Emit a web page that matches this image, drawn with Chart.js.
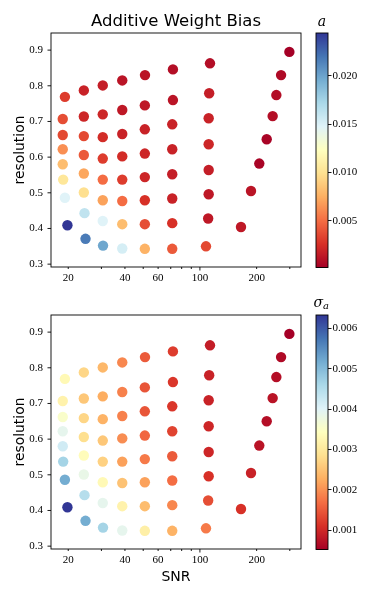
<!DOCTYPE html>
<html>
<head>
<meta charset="utf-8">
<script src="https://cdn.jsdelivr.net/npm/chart.js@4.4.0/dist/chart.umd.min.js"></script>
<style>
  body { margin: 0; background: #fff; }
  #wrap { position: relative; width: 374px; height: 598px; background: #fff; overflow: hidden; }
  canvas { position: absolute; }
</style>
</head>
<body>
<div id="wrap">
  <canvas id="topPlot" width="310" height="298" style="left:0;top:0"></canvas>
  <canvas id="topBar" width="74" height="298" style="left:300px;top:0"></canvas>
  <canvas id="botPlot" width="310" height="316" style="left:0;top:282px"></canvas>
  <canvas id="botBar" width="74" height="298" style="left:300px;top:282px"></canvas>
</div>
<script>
// one row per noise level, 8 resolutions each
var snr = [
  [19.2, 18.7, 18.7, 18.7, 18.7, 18.8, 19.2, 19.8],
  [24.2, 24.2, 24.2, 24.2, 24.2, 24.2, 24.4, 24.7],
  [30.5, 30.5, 30.5, 30.5, 30.5, 30.5, 30.5, 30.6],
  [38.7, 38.7, 38.7, 38.7, 38.7, 38.7, 38.7, 38.7],
  [51.1, 51.0, 51.0, 51.0, 51.0, 51.0, 51.0, 51.0],
  [71.9, 71.9, 71.3, 71.3, 71.3, 71.3, 71.3, 71.3],
  [113.1, 112.0, 111.3, 111.3, 111.3, 111.3, 110.6, 107.7],
  [298.4, 269.6, 254.5, 243.3, 226.2, 206.6, 186.7, 165.2]
];
var resolution = [
  [0.769, 0.707, 0.662, 0.622, 0.580, 0.537, 0.486, 0.409],
  [0.787, 0.714, 0.659, 0.606, 0.554, 0.501, 0.443, 0.371],
  [0.801, 0.720, 0.656, 0.596, 0.537, 0.479, 0.421, 0.352],
  [0.815, 0.732, 0.665, 0.602, 0.537, 0.477, 0.412, 0.344],
  [0.830, 0.745, 0.678, 0.610, 0.544, 0.479, 0.412, 0.343],
  [0.846, 0.760, 0.692, 0.622, 0.552, 0.484, 0.415, 0.343],
  [0.863, 0.779, 0.709, 0.636, 0.564, 0.496, 0.428, 0.350],
  [0.895, 0.830, 0.774, 0.715, 0.650, 0.582, 0.505, 0.404]
];
var biasA = [
  [0.0031, 0.0038, 0.0036, 0.0063, 0.0082, 0.0104, 0.0147, 0.0244],
  [0.0019, 0.0021, 0.0036, 0.0043, 0.0072, 0.0099, 0.0162, 0.0217],
  [0.0017, 0.0021, 0.0024, 0.0031, 0.0050, 0.0070, 0.0147, 0.0198],
  [0.0012, 0.0014, 0.0019, 0.0024, 0.0031, 0.0050, 0.0082, 0.0152],
  [0.0012, 0.0014, 0.0019, 0.0021, 0.0021, 0.0026, 0.0038, 0.0077],
  [0.0009, 0.0012, 0.0019, 0.0019, 0.0017, 0.0019, 0.0026, 0.0043],
  [0.0009, 0.0017, 0.0019, 0.0021, 0.0017, 0.0014, 0.0014, 0.0036],
  [0.0002, 0.0007, 0.0009, 0.0009, 0.0004, 0.0004, 0.0012, 0.0014]
];
var sigmaA = [
  [0.00331, 0.00319, 0.00354, 0.00389, 0.00418, 0.00465, 0.00517, 0.00633],
  [0.00273, 0.00255, 0.00273, 0.00284, 0.00337, 0.00383, 0.00447, 0.00517],
  [0.00238, 0.00226, 0.00232, 0.00255, 0.00267, 0.00331, 0.00389, 0.00465],
  [0.00191, 0.00186, 0.00186, 0.00197, 0.00215, 0.00250, 0.00319, 0.00389],
  [0.00151, 0.00145, 0.00145, 0.00162, 0.00180, 0.00215, 0.00244, 0.00313],
  [0.00122, 0.00116, 0.00116, 0.00128, 0.00151, 0.00168, 0.00191, 0.00232],
  [0.00087, 0.00093, 0.00093, 0.00098, 0.00098, 0.00110, 0.00139, 0.00180],
  [0.00052, 0.00064, 0.00069, 0.00075, 0.00069, 0.00075, 0.00093, 0.00110]
];

var snrTicks = [20, 30, 40, 50, 60, 70, 80, 90, 100, 200, 300];
var snrLabels = [20, 40, 60, 100, 200];
var resTicks = [0.3, 0.4, 0.5, 0.6, 0.7, 0.8, 0.9];
var aTicks = [0.005, 0.010, 0.015, 0.020];
var sigmaTicks = [0.001, 0.002, 0.003, 0.004, 0.005, 0.006];

var rdylbu = ['#a50026', '#d73027', '#f46d43', '#fdae61', '#fee090', '#ffffbf',
              '#e0f3f8', '#abd9e9', '#74add1', '#4575b4', '#313695'];

Chart.defaults.color = '#000';

function flat(arr) { return [].concat.apply([], arr); }

function hexRgb(h) {
  return [parseInt(h.substr(1, 2), 16), parseInt(h.substr(3, 2), 16), parseInt(h.substr(5, 2), 16)];
}

function cmap(t) {
  t = Math.min(1, Math.max(0, t));
  var p = t * 10;
  var i = Math.min(9, Math.floor(p));
  var f = p - i;
  var a = hexRgb(rdylbu[i]), b = hexRgb(rdylbu[i + 1]);
  return 'rgb(' + Math.round(a[0] + (b[0] - a[0]) * f) + ',' +
    Math.round(a[1] + (b[1] - a[1]) * f) + ',' +
    Math.round(a[2] + (b[2] - a[2]) * f) + ')';
}

var tickFont = { family: 'Liberation Serif', size: 11 };
var labelFont = { family: 'DejaVu Sans', size: 13.9 };

// frame, hand-drawn tick marks (matplotlib style minor/major) and title
var decor = {
  id: 'decor',
  afterDraw: function(chart, args, opts) {
    var ctx = chart.ctx, a = chart.chartArea;
    var xs = chart.scales.x, ys = chart.scales.y;
    ctx.save();
    ctx.strokeStyle = '#000';
    ctx.lineWidth = 0.9;
    ctx.beginPath();
    xs.ticks.forEach(function(t) {
      var px = xs.getPixelForValue(t.value);
      var len = t.value === 100 ? 3.5 : 2;
      ctx.moveTo(px, a.bottom);
      ctx.lineTo(px, a.bottom + len);
    });
    ys.ticks.forEach(function(t) {
      var py = ys.getPixelForValue(t.value);
      ctx.moveTo(a.left, py);
      ctx.lineTo(a.left - 3.5, py);
    });
    ctx.stroke();
    ctx.strokeRect(a.left, a.top, a.right - a.left, a.bottom - a.top);
    if (opts.title) {
      ctx.fillStyle = '#000';
      ctx.font = '16.5px "DejaVu Sans"';
      ctx.textAlign = 'center';
      ctx.textBaseline = 'alphabetic';
      ctx.fillText(opts.title, (a.left + a.right) / 2, 25.5);
    }
    ctx.restore();
  }
};

// gradient strip of the colour bar, drawn through the y scale
var cbar = {
  id: 'cbar',
  beforeDraw: function(chart, args, opts) {
    var ctx = chart.ctx, a = chart.chartArea, ys = chart.scales.y;
    ctx.save();
    for (var y = Math.floor(a.top); y < a.bottom; y++) {
      var v = ys.getValueForPixel(y + 0.5);
      ctx.fillStyle = cmap((v - opts.vmin) / (opts.vmax - opts.vmin));
      ctx.fillRect(a.left, y, a.right - a.left, 1);
    }
    ctx.strokeStyle = '#000';
    ctx.lineWidth = 0.9;
    ctx.strokeRect(a.left, a.top, a.right - a.left, a.bottom - a.top);
    var cx = (a.left + a.right) / 2;
    ctx.fillStyle = '#000';
    ctx.textBaseline = 'alphabetic';
    ctx.font = 'italic 14px "DejaVu Serif"';
    if (opts.sub) {
      ctx.textAlign = 'left';
      var w = ctx.measureText(opts.label).width;
      ctx.fillText(opts.label, cx - w + 1, 25);
      ctx.font = 'italic 10px "DejaVu Serif"';
      ctx.fillText(opts.sub, cx + 1, 27);
    } else {
      ctx.textAlign = 'center';
      ctx.fillText(opts.label, cx, 26);
    }
    ctx.restore();
  }
};

function makeScatter(id, values, title, showXTitle, xHeight) {
  var vals = flat(values);
  var xs = flat(snr), ys = flat(resolution);
  var vmin = Math.min.apply(null, vals), vmax = Math.max.apply(null, vals);
  var pts = [], colors = [];
  for (var i = 0; i < xs.length; i++) {
    pts.push({ x: xs[i], y: ys[i] });
    colors.push(cmap((vals[i] - vmin) / (vmax - vmin)));
  }
  var ctx = document.getElementById(id).getContext('2d');
  return new Chart(ctx, {
    type: 'scatter',
    data: {
      datasets: [{
        data: pts,
        backgroundColor: colors,
        borderWidth: 0,
        pointRadius: 5.2,
        pointHoverRadius: 5.2
      }]
    },
    options: {
      responsive: false,
      animation: false,
      layout: { padding: { left: 0, right: 9, top: 33, bottom: 0 } },
      plugins: {
        legend: { display: false },
        tooltip: { enabled: false },
        decor: { title: title }
      },
      scales: {
        x: {
          type: 'logarithmic',
          bounds: 'data',
          min: 16.2,
          max: 344,
          afterBuildTicks: function(s) { s.ticks = snrTicks.map(function(v) { return { value: v }; }); },
          afterFit: function(s) { s.height = xHeight; },
          grid: { display: false, drawTicks: false },
          border: { display: false },
          ticks: {
            autoSkip: false,
            maxRotation: 0,
            padding: 5,
            font: tickFont,
            callback: function(v) { return snrLabels.indexOf(v) >= 0 ? String(v) : ''; }
          },
          title: { display: showXTitle, text: 'SNR', font: { family: 'DejaVu Sans', size: 14 }, padding: { top: 0, bottom: 12 } }
        },
        y: {
          bounds: 'data',
          min: 0.292,
          max: 0.948,
          afterBuildTicks: function(s) { s.ticks = resTicks.map(function(v) { return { value: v }; }); },
          afterFit: function(s) { s.width = 51; },
          grid: { display: false, drawTicks: false },
          border: { display: false },
          ticks: {
            padding: 8,
            font: tickFont,
            callback: function(v) { return v.toFixed(1); }
          },
          title: { display: true, text: 'resolution', font: labelFont, padding: { top: 12, bottom: 0 } }
        }
      }
    },
    plugins: [decor]
  });
}

function makeColorbar(id, values, ticks, label, sub) {
  var vals = flat(values);
  var vmin = Math.min.apply(null, vals), vmax = Math.max.apply(null, vals);
  var ctx = document.getElementById(id).getContext('2d');
  return new Chart(ctx, {
    type: 'scatter',
    data: { datasets: [] },
    options: {
      responsive: false,
      animation: false,
      layout: { padding: { left: 16, right: 0, top: 33, bottom: 30.5 } },
      plugins: {
        legend: { display: false },
        tooltip: { enabled: false },
        cbar: { vmin: vmin, vmax: vmax, label: label, sub: sub }
      },
      scales: {
        x: { display: false, min: 0, max: 1 },
        y: {
          position: 'right',
          bounds: 'data',
          min: vmin,
          max: vmax,
          afterBuildTicks: function(s) { s.ticks = ticks.map(function(v) { return { value: v }; }); },
          afterFit: function(s) { s.width = 46; },
          grid: { display: true, drawOnChartArea: false, tickLength: 3.5, tickColor: '#000', tickWidth: 0.9 },
          border: { display: false },
          ticks: {
            padding: 1,
            font: tickFont,
            callback: function(v) { return v.toFixed(3); }
          }
        }
      }
    },
    plugins: [cbar]
  });
}

makeScatter('topPlot', biasA, 'Additive Weight Bias', false, 31);
makeColorbar('topBar', biasA, aTicks, 'a', null);
makeScatter('botPlot', sigmaA, null, true, 49);
makeColorbar('botBar', sigmaA, sigmaTicks, 'σ', 'a');
</script>
</body>
</html>
